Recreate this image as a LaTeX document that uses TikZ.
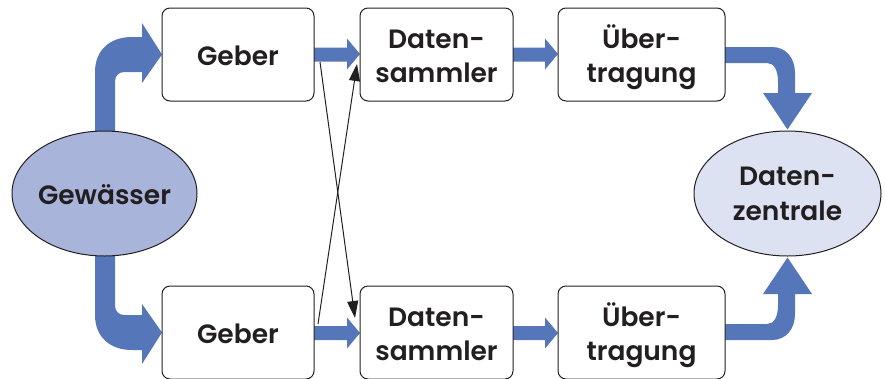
\documentclass[tikz,border=0pt]{standalone}
\usepackage{fontspec}
\setmainfont{Poppins SemiBold}
\usetikzlibrary{shapes.geometric,arrows.meta}
\definecolor{arrowblue}{HTML}{5577B9}
\definecolor{gewfill}{HTML}{A9B4DA}
\definecolor{dzfill}{HTML}{DCE2F2}
\definecolor{ink}{HTML}{231F20}
\newcommand\onel[1]{\smash{\makebox[0pt]{\raisebox{-10.5pt}{#1}}}}
\newcommand\twol[4][-27.5pt]{\smash{\makebox[0pt]{\raisebox{#4}{#2}}}\smash{\makebox[0pt]{\raisebox{#1}{#3}}}}
\tikzset{
  box/.style={draw=ink, line width=1pt, fill=white, rounded corners=8pt, minimum height=93pt, inner sep=0pt, text=ink},
  oval/.style={ellipse, draw=ink, line width=1pt, inner sep=0pt, minimum height=125pt, text=ink},
  bigarrow/.style={fill=arrowblue, draw=none},
  thin/.style={draw=ink, line width=1pt, -{Triangle[length=17pt,width=11pt]}},
  lbl/.style={font=\fontsize{26.5}{34}\selectfont}
}
\begin{document}
\begin{tikzpicture}[x=1pt,y=-1pt]
\useasboundingbox (0,0) rectangle (885,378);
% blue arrows (drawn first, boxes cover their ends)
\fill[bigarrow] (95,145) -- (95,72) .. controls (95,50) and (110,37) .. (132,37) -- (142,37) -- (142,23) -- (162,54.5) -- (142,83) -- (142,72) -- (124,72) .. controls (119,72) and (115,76) .. (115,81) -- (115,145) -- cycle;
\fill[bigarrow] (95,242) -- (95,315) .. controls (95,337) and (110,350) .. (132,350) -- (142,350) -- (142,364) -- (162,332.5) -- (142,304) -- (142,315) -- (124,315) .. controls (119,315) and (115,311) .. (115,306) -- (115,242) -- cycle;
\fill[bigarrow] (720,47) -- (772,47) .. controls (786,47) and (795,58) .. (795,73) -- (795,93) -- (812,93) -- (787.5,129.5) -- (763,93) -- (778,93) -- (778,82) .. controls (778,70) and (774,63) .. (767,63) -- (720,63) -- cycle;
\fill[bigarrow] (720,340) -- (772,340) .. controls (786,340) and (795,329) .. (795,314) -- (795,294) -- (812,294) -- (787.5,257.5) -- (763,294) -- (778,294) -- (778,305) .. controls (778,317) and (774,324) .. (767,324) -- (720,324) -- cycle;
\fill[bigarrow] (310,47.5) -- (347,47.5) -- (347,38.5) -- (360,54) -- (347,69.5) -- (347,61.5) -- (310,61.5) -- cycle;
\fill[bigarrow] (509,47.5) -- (545,47.5) -- (545,38.5) -- (558,54) -- (545,69.5) -- (545,61.5) -- (509,61.5) -- cycle;
\fill[bigarrow] (310,326) -- (347,326) -- (347,317.5) -- (360,333) -- (347,348.5) -- (347,340) -- (310,340) -- cycle;
\fill[bigarrow] (509,326) -- (545,326) -- (545,317.5) -- (558,333) -- (545,348.5) -- (545,340) -- (509,340) -- cycle;
% nodes
\node[oval, fill=gewfill, minimum width=185pt, lbl] (gew) at (104.5,193.5) {\onel{Gewässer}};
\node[oval, fill=dzfill, minimum width=187pt, lbl] (dz) at (787.5,193.5) {\twol[-26.5pt]{Daten-}{zentrale}{8.5pt}};
\node[box, minimum width=152pt, lbl] (geberT) at (238,54.5) {\onel{Geber}};
\node[box, minimum width=152pt, lbl] (geberB) at (238,332.5) {\onel{Geber}};
\node[box, minimum width=153pt, lbl] (dsT) at (436.5,54.5) {\twol{Daten-}{sammler}{6.5pt}};
\node[box, minimum width=153pt, lbl] (dsB) at (436.5,332.5) {\twol{Daten-}{sammler}{6.5pt}};
\node[box, minimum width=167pt, lbl] (ubT) at (641.5,54.5) {\twol{Über-}{tragung}{6.5pt}};
\node[box, minimum width=167pt, lbl] (ubB) at (641.5,332.5) {\twol{Über-}{tragung}{6.5pt}};
% crossing thin arrows
\coordinate (s1) at (320,62);
\coordinate (e1) at (355,318);
\coordinate (s2) at (318,324);
\coordinate (e2) at (357,64);
\draw[thin] (s1) -- (e1);
\draw[thin] (s2) -- (e2);
\end{tikzpicture}
\end{document}
